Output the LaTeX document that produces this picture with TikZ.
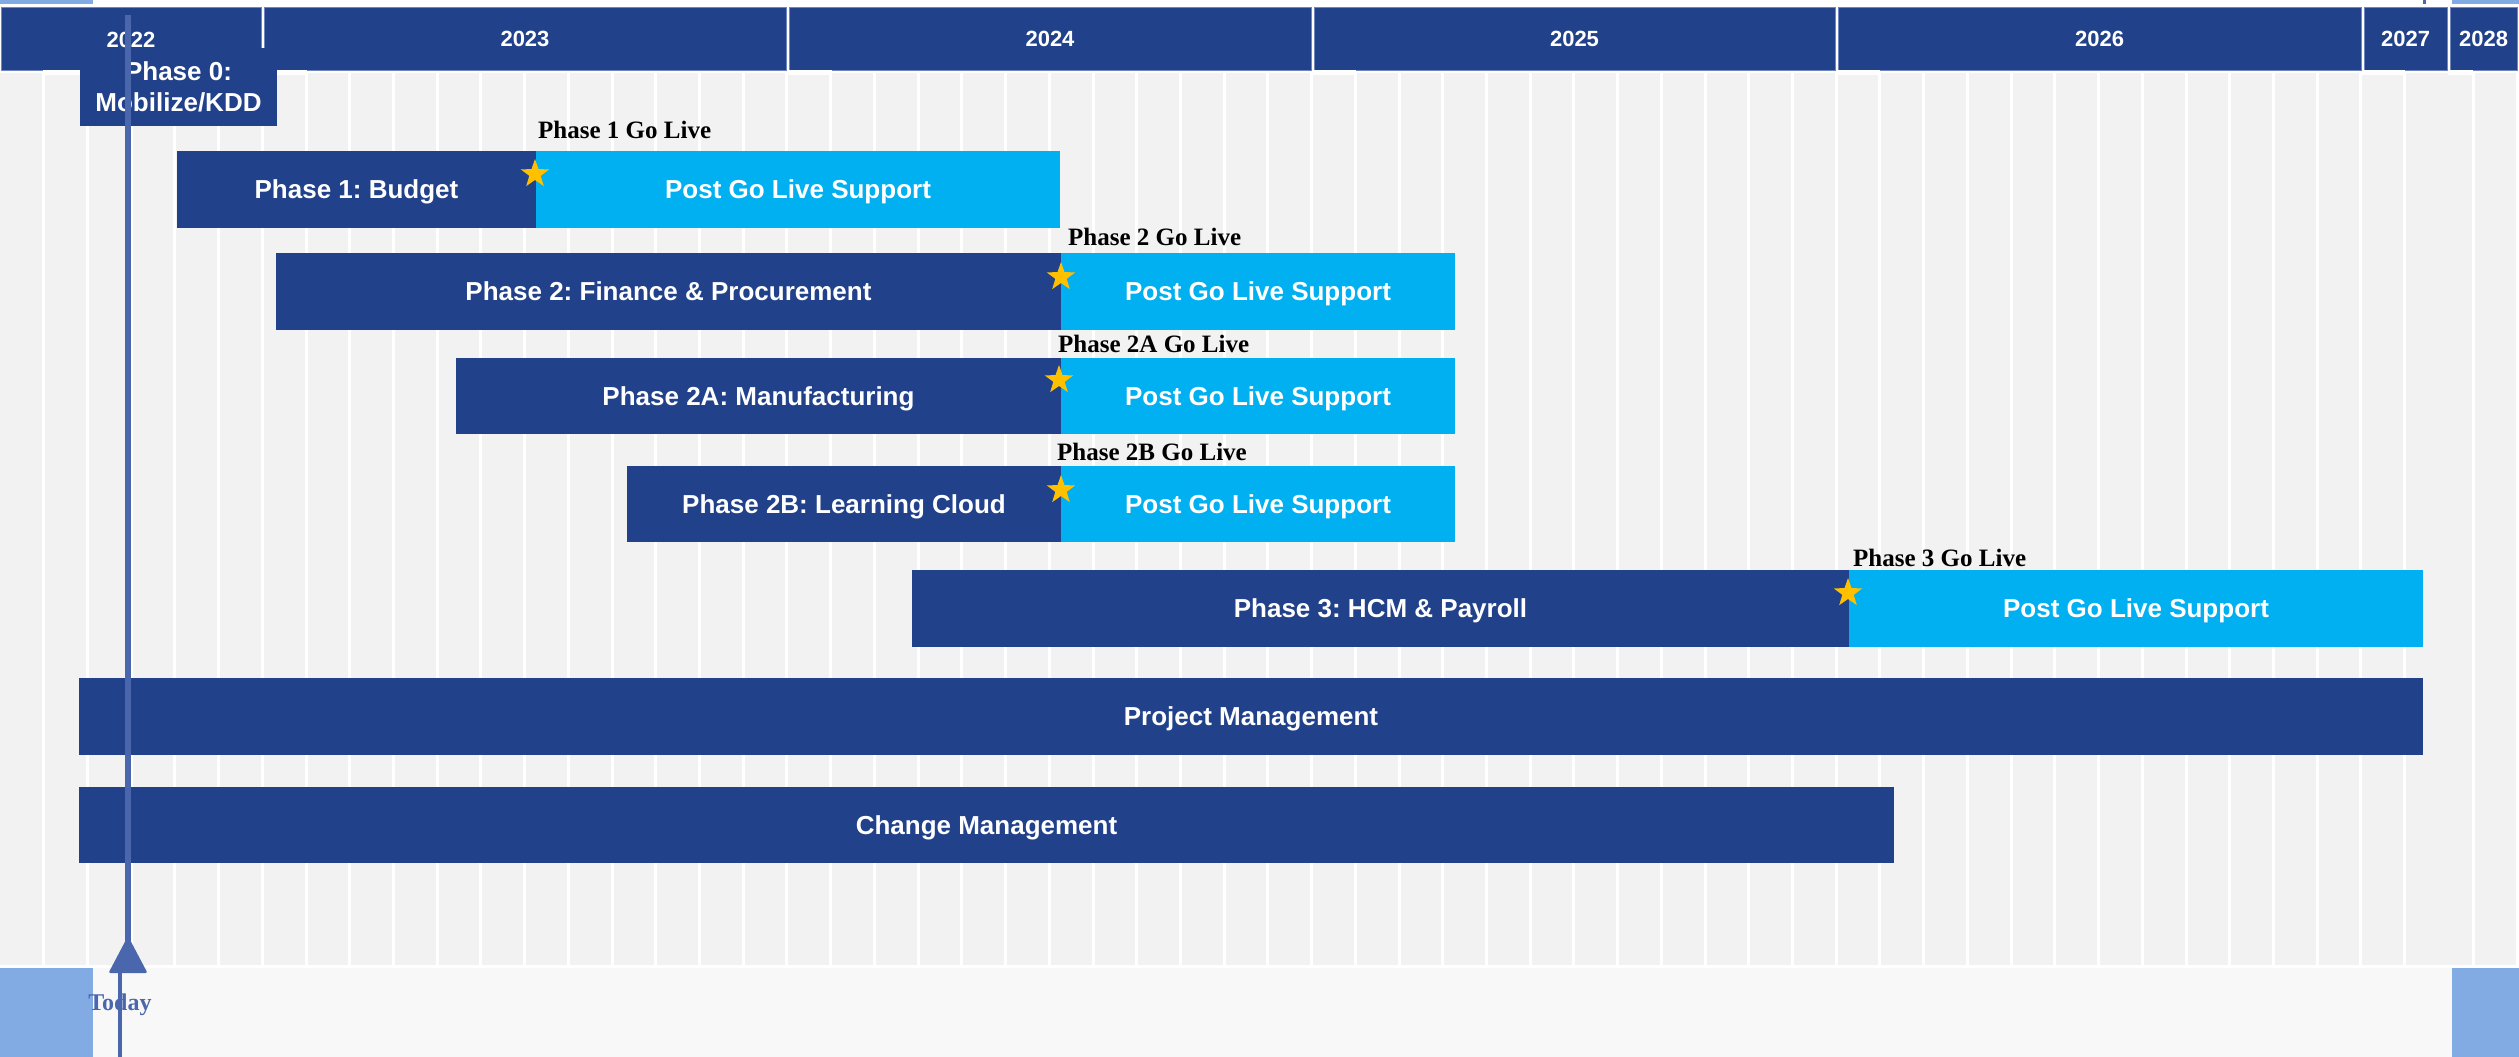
\documentclass[tikz,border=0pt]{standalone}
\usepackage{fontspec}
\setmainfont{Liberation Serif}
\setsansfont{Liberation Sans}
\usetikzlibrary{shapes.geometric}
\frenchspacing
\definecolor{navy}{HTML}{21418A}
\definecolor{cyanbar}{HTML}{00B0F0}
\definecolor{gridbg}{HTML}{F2F2F2}
\definecolor{gold}{HTML}{FFC000}
\definecolor{todayblue}{HTML}{4A67AE}
\definecolor{margblue}{HTML}{82AAE3}
\definecolor{bandbg}{HTML}{F8F8F8}
\definecolor{hdrline}{HTML}{6F86C0}
\tikzset{
  ganttbase/.style={anchor=north west, inner sep=0pt, outer sep=0pt, text=white,
    font=\sffamily\bfseries\frenchspacing\fontsize{26}{31}\selectfont, align=center},
  ganttbar/.style={ganttbase, text height=18.6pt, text depth=0pt},
  darkbar/.style={ganttbar, fill=navy},
  lightbar/.style={ganttbar, fill=cyanbar},
  phasezero/.style={ganttbase, fill=navy},
  golive/.style={anchor=base west, inner sep=0pt, text=black,
    font=\bfseries\fontsize{25}{30}\selectfont},
  milestone/.style={star, star points=5, star point ratio=2.5, fill=gold,
    draw=none, minimum size=30pt, inner sep=0pt},
  yearbox/.style={anchor=north west, inner sep=0pt, fill=navy, draw=hdrline,
    line width=1pt, text=white, minimum height=63pt,
    font=\sffamily\bfseries\fontsize{22}{26}\selectfont},
  gridline/.style={white, line width=3pt},
  notch/.style={fill=white},
}
\begin{document}
\begin{tikzpicture}[x=1pt,y=-1pt]
\useasboundingbox (0,0) rectangle (2519,1057);
% background and margins
\fill[white] (0,0) rectangle (2519,1057);
\fill[margblue] (0,0) rectangle (93,1057);
\fill[margblue] (2452,0) rectangle (2519,1057);
\draw[todayblue, line width=3pt] (2424,0) -- (2424,1057);
\fill[white] (0,4) rectangle (2519,967);
\fill[bandbg] (93,967) rectangle (2452,1057);
% chart body
\fill[gridbg] (0,73) rectangle (2517,965);
\foreach \k in {1,...,55} {
  \draw[gridline] ({\k*43.72},73) -- ({\k*43.72},965);
}
\draw[gridline] (2473,73) -- (2473,965);
\draw[gridline] (2517,73) -- (2517,965);
\draw[white, line width=3pt] (0,966) -- (2519,966);
% header
\node[yearbox, minimum width=260pt] (y2022) at (0.5,7) {};
\node[yearbox, minimum width=522pt] (y2023) at (263.5,7) {2023};
\node[yearbox, minimum width=522pt] (y2024) at (788.5,7) {2024};
\node[yearbox, minimum width=521pt] (y2025) at (1313.5,7) {2025};
\node[yearbox, minimum width=523pt] (y2026) at (1837.5,7) {2026};
\node[yearbox, minimum width=83pt] (y2027) at (2363.5,7) {2027};
\node[yearbox, minimum width=67pt] (y2028) at (2449.5,7) {2028};
\node[text=white, font=\sffamily\bfseries\fontsize{22}{26}\selectfont] (l2022) at (131,40) {2022};
\fill[notch] (43,70) rectangle (80,75);
\fill[notch] (277,70) rectangle (307,75);
\fill[notch] (787,70) rectangle (832,75);
\fill[notch] (1312,70) rectangle (1356,75);
\fill[notch] (1836,70) rectangle (1880,75);
\fill[notch] (2362,70) rectangle (2405,75);
\fill[notch] (2448,70) rectangle (2473,75);
% phase 0
\node[phasezero, minimum width=197pt, minimum height=78pt] (p0) at (80,48) {Phase 0:\\Mobilize/KDD};
% phase bars
\node[darkbar, minimum width=359pt, minimum height=77pt] (p1) at (177,151) {Phase 1: Budget};
\node[lightbar, minimum width=524pt, minimum height=77pt] (p1s) at (536,151) {Post Go Live Support};
\node[darkbar, minimum width=785pt, minimum height=77pt] (p2) at (276,253) {Phase 2: Finance \& Procurement};
\node[lightbar, minimum width=394pt, minimum height=77pt] (p2s) at (1061,253) {Post Go Live Support};
\node[darkbar, minimum width=605pt, minimum height=76pt] (p2a) at (456,358) {Phase 2A: Manufacturing};
\node[lightbar, minimum width=394pt, minimum height=76pt] (p2as) at (1061,358) {Post Go Live Support};
\node[darkbar, minimum width=434pt, minimum height=76pt] (p2b) at (627,466) {Phase 2B: Learning Cloud};
\node[lightbar, minimum width=394pt, minimum height=76pt] (p2bs) at (1061,466) {Post Go Live Support};
\node[darkbar, minimum width=937pt, minimum height=77pt] (p3) at (912,570) {Phase 3: HCM \& Payroll};
\node[lightbar, minimum width=574pt, minimum height=77pt] (p3s) at (1849,570) {Post Go Live Support};
\node[darkbar, minimum width=2344pt, minimum height=77pt] (pm) at (79,678) {Project Management};
\node[darkbar, minimum width=1815pt, minimum height=76pt] (cm) at (79,787) {Change Management};
% go live labels
\node[golive] (g1) at (538,138) {Phase 1 Go Live};
\node[golive] (g2) at (1068,245) {Phase 2 Go Live};
\node[golive] (g2a) at (1058,352) {Phase 2A Go Live};
\node[golive] (g2b) at (1057,460) {Phase 2B Go Live};
\node[golive] (g3) at (1853,566) {Phase 3 Go Live};
% stars
\node[milestone] (s1) at (535,174) {};
\node[milestone] (s2) at (1061,277) {};
\node[milestone] (s2a) at (1059,380) {};
\node[milestone] (s2b) at (1061,490) {};
\node[milestone] (s3) at (1848,593) {};
% today marker
\node[anchor=base, inner sep=0pt, text=todayblue, font=\bfseries\fontsize{24}{28}\selectfont] (today) at (120,1010) {Today};
\draw[todayblue, line width=6pt] (128,15) -- (128,945);
\fill[todayblue, rounded corners=2pt] (128,936) -- (147.5,973) -- (108.5,973) -- cycle;
\draw[todayblue, line width=4pt] (120,973) -- (120,1057);
\end{tikzpicture}
\end{document}
